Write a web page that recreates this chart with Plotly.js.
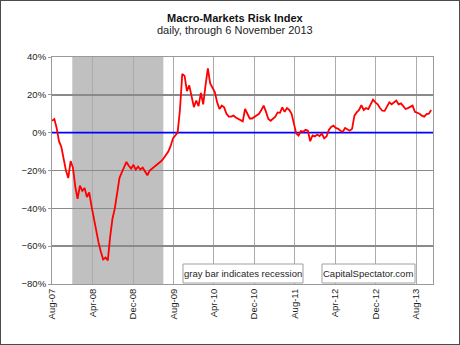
<!DOCTYPE html>
<html>
<head>
<meta charset="utf-8">
<script src="https://cdn.plot.ly/plotly-3.0.1.min.js"></script>
<style>
  html, body { margin: 0; padding: 0; background: #fff; }
  #chart { width: 458px; height: 343px; border: 1px solid #4a4a4a; }
</style>
</head>
<body>
<div id="chart"></div>
<script>
// Macro-Markets Risk Index, sampled every two weeks from 1 Aug 2007 (percent)
const seriesStart = '2007-08-01';
const stepDays = 14;
const riskIndex = [
  6.3, 7.2, 2.5, -4.5, -7.5, -13.5, -20, -24, -15, -18.5,
  -28.5, -35, -28, -30.7, -29.3, -34, -31.6, -39, -46, -53,
  -58, -63, -67, -66, -67.5, -55, -45.5, -40, -33, -24,
  -21, -18, -15.5, -17.5, -19, -17, -19.5, -18, -19.5, -18.5,
  -20.5, -22.5, -20, -19, -18, -17.5, -16, -15, -13.5, -12,
  -10, -7, -3, -1.5, 0, 12, 31, 30, 22, 25,
  20, 13.5, 17, 14, 21, 15, 25, 34, 26, 24,
  21.5, 16, 12.5, 14.3, 13.4, 10, 8.5, 8.5, 9, 8,
  7.2, 6.5, 6, 12.5, 10, 7.5, 7.5, 8.2, 9, 10,
  12, 14.3, 11, 7.2, 6.3, 7.5, 8.5, 10.7, 10.5, 13.4,
  11, 13, 12, 10, 5, -0.5, -1.5, 0.8, 0.5, 1.5,
  1, -4.5, -1.5, -2, -1, -1.8, -0.5, -3, -2, 1.5,
  3, 3.7, 2.5, 2, 1, 0.5, 2.5, 1.5, 1, 2,
  9, 10.7, 12, 14.5, 12, 13, 12.5, 15, 17.5, 16,
  15, 13, 11.6, 11.5, 13.5, 16, 15, 16, 17, 15,
  15.5, 14, 12.5, 13, 13.5, 14.3, 11, 10.5, 10, 9,
  8.5, 9.8, 10, 12
];

// Recession period (NBER) shown as a gray band
const recessionStart = '2007-12-01';
const recessionEnd = '2009-06-01';

// Axis extent and tick settings
const xRange = ['2007-08-01', '2013-11-10'];
const yRange = [-80, 40];
const zeroLevel = [0, 0];

const titleText = 'Macro-Markets Risk Index';
const subtitleText = 'daily, through 6 November 2013';
const noteText = 'gray bar indicates recession';
const sourceText = 'CapitalSpectator.com';

function buildDates(start, step, n) {
  const out = [];
  const t0 = new Date(start + 'T00:00:00Z').getTime();
  for (let i = 0; i < n; i++) {
    out.push(new Date(t0 + i * step * 86400000).toISOString().slice(0, 10));
  }
  return out;
}
const dates = buildDates(seriesStart, stepDays, riskIndex.length);

const font = 'Liberation Sans, Arial, sans-serif';

const traces = [
  {
    x: xRange, y: zeroLevel, type: 'scatter', mode: 'lines',
    line: { color: '#0000ff', width: 1.6 }, hoverinfo: 'skip'
  },
  {
    x: dates, y: riskIndex, type: 'scatter', mode: 'lines',
    line: { color: '#ff0000', width: 1.8 }
  }
];

const layout = {
  width: 458, height: 343,
  margin: { l: 51, r: 26, t: 56, b: 60 },
  paper_bgcolor: '#ffffff', plot_bgcolor: '#ffffff',
  showlegend: false,
  font: { family: font, size: 9.5, color: '#1e1e1e' },
  xaxis: {
    type: 'date', range: xRange,
    tick0: '2007-08-01', dtick: 'M8', tickformat: '%b-%y',
    tickangle: -90, ticks: '', ticklen: 0,
    showgrid: true, gridcolor: '#ababab', gridwidth: 1,
    showline: true, linecolor: '#9a9a9a', linewidth: 1, mirror: true,
    zeroline: false, tickfont: { family: font, size: 9.5, color: '#1e1e1e' }
  },
  yaxis: {
    range: yRange, dtick: 20, tick0: 0, ticksuffix: '%',
    ticks: 'outside', ticklen: 3, tickcolor: '#9a9a9a',
    showgrid: true, gridcolor: '#8a8a8a', gridwidth: 1.5,
    showline: true, linecolor: '#9a9a9a', linewidth: 1, mirror: true,
    zeroline: false, tickfont: { family: font, size: 9.5, color: '#1e1e1e' }
  },
  shapes: [
    {
      type: 'rect', xref: 'x', yref: 'paper', layer: 'between',
      x0: recessionStart, x1: recessionEnd, y0: 0, y1: 1,
      fillcolor: '#c0c0c0', line: { width: 0 }
    },
    {
      type: 'rect', xref: 'paper', yref: 'paper', layer: 'above',
      x0: 0.3438, x1: 0.6588, y0: 0.0044, y1: 0.0881,
      fillcolor: '#ffffff', line: { color: '#a0a0a0', width: 1 }
    },
    {
      type: 'rect', xref: 'paper', yref: 'paper', layer: 'above',
      x0: 0.7087, x1: 0.9528, y0: 0.0044, y1: 0.0881,
      fillcolor: '#ffffff', line: { color: '#a0a0a0', width: 1 }
    }
  ],
  annotations: [
    {
      text: '<b>' + titleText + '</b>', xref: 'paper', yref: 'paper',
      x: 0.4816, y: 1.174, xanchor: 'center', yanchor: 'middle',
      showarrow: false, font: { family: font, size: 11, color: '#111' }
    },
    {
      text: subtitleText, xref: 'paper', yref: 'paper',
      x: 0.4816, y: 1.119, xanchor: 'center', yanchor: 'middle',
      showarrow: false, font: { family: font, size: 11, color: '#222' }
    },
    {
      text: noteText, xref: 'paper', yref: 'paper',
      x: 0.5013, y: 0.0463, xanchor: 'center', yanchor: 'middle',
      showarrow: false, font: { family: font, size: 9.5, color: '#1e1e1e' }
    },
    {
      text: sourceText, xref: 'paper', yref: 'paper',
      x: 0.8307, y: 0.0463, xanchor: 'center', yanchor: 'middle',
      showarrow: false, font: { family: font, size: 9.5, color: '#1e1e1e' }
    }
  ]
};

Plotly.newPlot('chart', traces, layout, { staticPlot: true, displayModeBar: false });
</script>
</body>
</html>
